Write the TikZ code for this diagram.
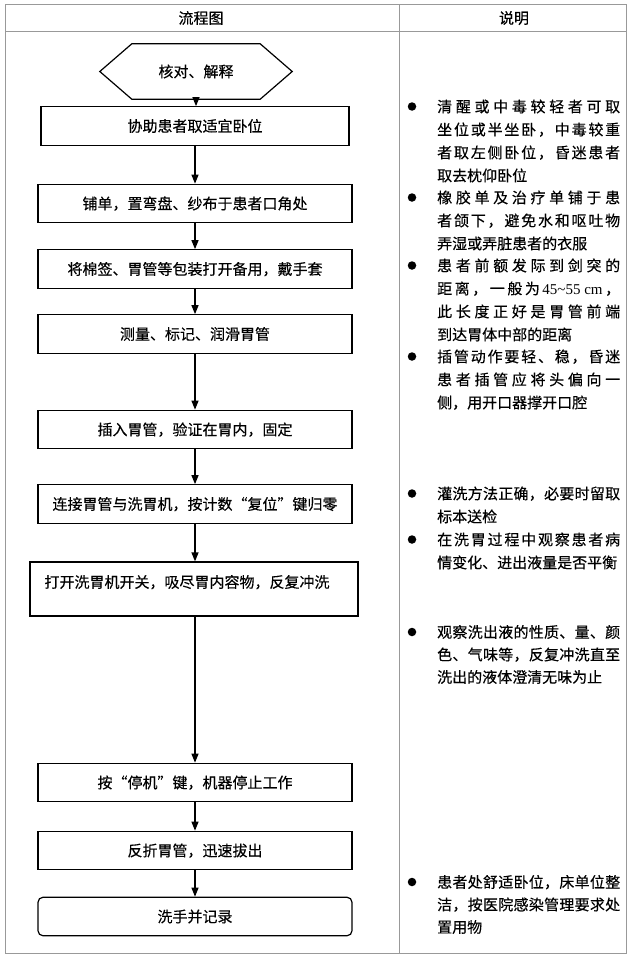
\documentclass[tikz,border=0pt]{standalone}
\usepackage{fontspec}
\setmainfont{Noto Sans CJK SC}[BoldFont=Noto Sans CJK SC, BoldFeatures={FakeBold=0.35}]
\newfontfamily\latfont{Liberation Serif}[BoldFont=Liberation Serif]
\usetikzlibrary{arrows.meta}
\def\jlEnd{}
\def\jlA#1{#1\jlB}
\def\jlB#1{\ifx#1\jlEnd\else\hfill#1\expandafter\jlB\fi}
\newcommand\jl[1]{\makebox[183pt][s]{\jlA#1\jlEnd}}
\tikzset{
  txt/.style={inner sep=0pt, text height=13.2pt, text depth=1.8pt, font=\fontsize{15pt}{18pt}\selectfont\bfseries},
  stepbox/.style={txt, draw=black, line width=1.2pt, minimum width=314pt, minimum height=38.5pt},
  flow/.style={-{Triangle[length=9pt,width=7pt]}, line width=1.2pt},
  tab/.style={draw=black!40, line width=1pt},
  note/.style={txt, anchor=west},
  dot/.style={circle, fill=black, minimum size=8.5pt, inner sep=0pt},
}
\begin{document}
\begin{tikzpicture}[x=1pt,y=-1pt]
\useasboundingbox (0,0) rectangle (635,961);
% table
\draw[tab] (5,4) rectangle (626,953);
\draw[tab] (5,31) -- (626,31);
\draw[tab] (399,4) -- (399,953);
\node[txt] (h1) at (201,18) {流程图};
\node[txt] (h2) at (514,18) {说明};
% flow chart
\node[txt, minimum width=192pt, minimum height=55pt] (hex) at (196,71.5) {核对、解释};
\draw[line width=1.2pt] (hex.west) -- ([xshift=32pt]hex.north west) -- ([xshift=-32pt]hex.north east)
  -- (hex.east) -- ([xshift=-32pt]hex.south east) -- ([xshift=32pt]hex.south west) -- cycle;
\node[stepbox, minimum width=308pt] (b1) at (195,126) {协助患者取适宜卧位};
\node[stepbox] (b2) at (195,203.5) {铺单，置弯盘、纱布于患者口角处};
\node[stepbox] (b3) at (195,269) {将棉签、胃管等包装打开备用，戴手套};
\node[stepbox] (b4) at (195,334) {测量、标记、润滑胃管};
\node[stepbox] (b5) at (195,429.5) {插入胃管，验证在胃内，固定};
\node[stepbox] (b6) at (195,504) {连接胃管与洗胃机，按计数“复位”键归零};
\node[stepbox, minimum width=328pt, minimum height=54pt, text height=25.7pt, text depth=28.3pt] (b7) at (194,589) {打开洗胃机开关，吸尽胃内容物，反复冲洗\hspace*{14pt}};
\node[stepbox] (b8) at (195,782.5) {按“停机”键，机器停止工作};
\node[stepbox] (b9) at (195,850.5) {反折胃管，迅速拔出};
\node[stepbox, rounded corners=5pt] (b10) at (195,916.5) {洗手并记录};
\draw[flow] (hex.south) -- (hex.south |- b1.north);
\draw[flow] (b1.south) -- (b2.north);
\draw[flow] (b2.south) -- (b3.north);
\draw[flow] (b3.south) -- (b4.north);
\draw[flow] (b4.south) -- (b5.north);
\draw[flow] (b5.south) -- (b6.north);
\draw[flow] (b6.south) -- (b6.south |- b7.north);
\draw[flow] (b6.south |- b7.south) -- (b8.north -| b6.south);
\draw[flow] (b8.south) -- (b9.north);
\draw[flow] (b9.south) -- (b10.north);
% notes
\node[dot] (d1) at (412,106.5) {};
\node[note] (r1a) at (437,106.5) {\jl{清醒或中毒较轻者可取}};
\node[note] (r1b) at (437,129.5) {\jl{坐位或半坐卧，中毒较重}};
\node[note] (r1c) at (437,152.5) {\jl{者取左侧卧位，昏迷患者}};
\node[note] (r1d) at (437,175.5) {取去枕仰卧位};
\node[dot] (d2) at (412,197.5) {};
\node[note] (r2a) at (437,197.5) {\jl{橡胶单及治疗单铺于患}};
\node[note] (r2b) at (437,220.5) {\jl{者颌下，避免水和呕吐物}};
\node[note] (r2c) at (437,243.5) {弄湿或弄脏患者的衣服};
\node[dot] (d3) at (412,265.5) {};
\node[note] (r3a) at (437,265.5) {\jl{患者前额发际到剑突的}};
\node[note] (r3b) at (437,288.5) {\makebox[183pt][s]{距\hfill 离\hfill ，\hfill 一\hfill 般\hfill 为\hfill{\latfont 45\textasciitilde 55 cm}\hfill ，}};
\node[note] (r3c) at (437,311.5) {\jl{此长度正好是胃管前端}};
\node[note] (r3d) at (437,334.5) {到达胃体中部的距离};
\node[dot] (d4) at (412,356.5) {};
\node[note] (r4a) at (437,356.5) {\jl{插管动作要轻、稳，昏迷}};
\node[note] (r4b) at (437,379.5) {\jl{患者插管应将头偏向一}};
\node[note] (r4c) at (437,402.5) {侧，用开口器撑开口腔};
\node[dot] (d5) at (412,493.5) {};
\node[note] (r5a) at (437,493.5) {\jl{灌洗方法正确，必要时留取}};
\node[note] (r5b) at (437,516.5) {标本送检};
\node[dot] (d6) at (412,539.5) {};
\node[note] (r6a) at (437,539.5) {\jl{在洗胃过程中观察患者病}};
\node[note] (r6b) at (437,562.5) {情变化、进出液量是否平衡};
\node[dot] (d7) at (412,632) {};
\node[note] (r7a) at (437,632) {\jl{观察洗出液的性质、量、颜}};
\node[note] (r7b) at (437,654.5) {\jl{色、气味等，反复冲洗直至}};
\node[note] (r7c) at (437,677) {洗出的液体澄清无味为止};
\node[dot] (d8) at (412,882) {};
\node[note] (r8a) at (437,882) {\jl{患者处舒适卧位，床单位整}};
\node[note] (r8b) at (437,904.5) {\jl{洁，按医院感染管理要求处}};
\node[note] (r8c) at (437,927) {置用物};
\end{tikzpicture}
\end{document}
